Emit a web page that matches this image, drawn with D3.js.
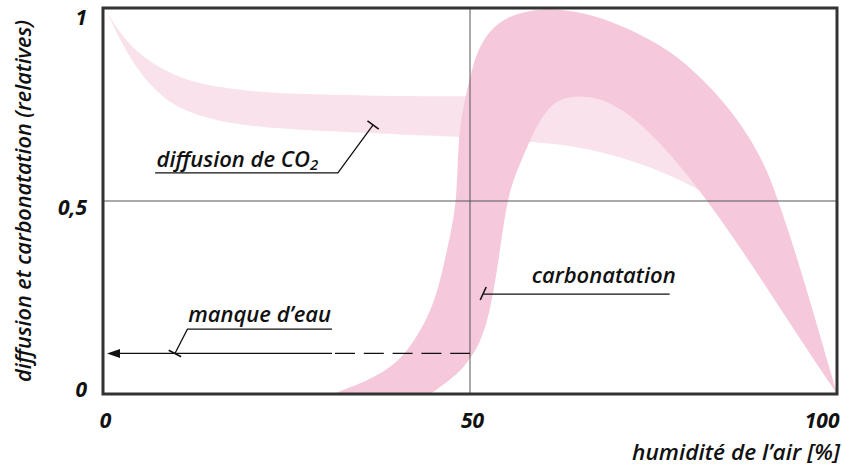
<!DOCTYPE html>
<html>
<head>
<meta charset="utf-8">
<script src="https://cdn.jsdelivr.net/npm/d3@7"></script>
<style>
	body { margin: 0; background: #fff; }
	text { font-family: 'Open Sans', sans-serif; font-style: italic; fill: #111; }
</style>
</head>
<body>
<svg id="chart" width="842" height="468"></svg>
<script>
// ticks
const xTicks = [0, 50, 100];
const yTicks = [0, 0.5, 1];
const yTickLabels = ['0', '0,5', '1'];

// band edges, [humidity %, relative value]
const carbonatationOuter = [
	[31.3, 0], [36.4, 0.036], [40.1, 0.08], [42.2, 0.132], [44.1, 0.192],
	[45.5, 0.26], [46.5, 0.34], [47.4, 0.42], [48.2, 0.5], [48.4, 0.658],
	[49.0, 0.736], [50.0, 0.821], [51.0, 0.891], [52.7, 0.943], [55.0, 0.977],
	[58.2, 0.995], [62, 0.998], [66, 0.985], [70, 0.96], [75, 0.915],
	[79, 0.865], [84.5, 0.762], [88.1, 0.666], [90.5, 0.58], [92, 0.5],
	[95, 0.33], [100, 0]
];
const carbonatationInner = [
	[100, 0], [94, 0.17], [88.6, 0.33], [82.3, 0.503], [77.7, 0.614],
	[73.2, 0.702], [70.4, 0.74], [67.7, 0.767], [65.0, 0.771], [63.2, 0.769],
	[61.3, 0.754], [59.5, 0.71], [58.2, 0.658], [56.4, 0.58], [55.0, 0.503],
	[53.8, 0.33], [52.6, 0.2], [51.2, 0.125], [50.0, 0.093], [48.6, 0.054],
	[44.6, 0]
];
const diffusionUpper = [
	[0.5, 0.99], [3, 0.915], [6.4, 0.858], [11, 0.812], [17, 0.79],
	[25, 0.776], [48.6, 0.769], [63, 0.775], [72, 0.765], [80, 0.69],
	[86, 0.55], [89, 0.42]
];
const diffusionLower = [
	[0.5, 0.99], [4.1, 0.847], [8.7, 0.754], [13.2, 0.718], [20, 0.69],
	[36, 0.676], [48.6, 0.666], [57, 0.657], [66, 0.64], [75, 0.588],
	[82.3, 0.521], [87, 0.45], [89, 0.42]
];

// "manque d'eau" arrow: level, end of solid part, end of dashed part
const waterLevel = 0.105;
const waterSolidEnd = 31.2;
const waterDashEnd = 50;

const margin = { top: 8, right: 5, bottom: 74, left: 103 };
const W = 842;
const H = 468;
const width = W - margin.left - margin.right;
const height = H - margin.top - margin.bottom;

const COLOR_CARB = '#f5c8dc';
const COLOR_DIFF = '#f9e2ec';
const INK = '#111';
const FS = 22;

const $svg = d3.select('#chart');
const $g = $svg.append('g').attr('transform', `translate(${margin.left},${margin.top})`);

const x = d3.scaleLinear().domain([0, 100]).range([0, width]);
const y = d3.scaleLinear().domain([0, 1]).range([height, 0]);

const edge = d3.line()
	.x(d => x(d[0]))
	.y(d => y(d[1]))
	.curve(d3.curveBasis);

function bandPath(a, b) {
	return edge(a) + edge(b).replace(/^M/, 'L') + 'Z';
}

$svg.append('defs').append('clipPath').attr('id', 'plot-clip')
	.append('rect').attr('width', width).attr('height', height);

const $bands = $g.append('g').attr('clip-path', 'url(#plot-clip)');

$bands.append('path')
	.attr('d', bandPath(diffusionUpper, diffusionLower.slice().reverse()))
	.attr('fill', COLOR_DIFF);

$bands.append('path')
	.attr('d', bandPath(carbonatationOuter, carbonatationInner))
	.attr('fill', COLOR_CARB);

// grid lines at 50 % and 0,5
$g.append('line')
	.attr('x1', x(50)).attr('x2', x(50))
	.attr('y1', 0).attr('y2', height)
	.attr('stroke', '#555').attr('stroke-width', 1);
$g.append('line')
	.attr('x1', 0).attr('x2', width)
	.attr('y1', y(0.5)).attr('y2', y(0.5))
	.attr('stroke', '#555').attr('stroke-width', 1);

// frame
$g.append('rect')
	.attr('width', width).attr('height', height)
	.attr('fill', 'none')
	.attr('stroke', '#333')
	.attr('stroke-width', 3);

// axes
const xAxis = d3.axisBottom(x).tickValues(xTicks).tickSize(0).tickPadding(19);
const $xAxis = $g.append('g').attr('transform', `translate(0,${height})`).call(xAxis);
$xAxis.select('.domain').remove();
$xAxis.selectAll('text')
	.attr('font-size', 21)
	.attr('font-weight', 700)
	.attr('font-family', "'Open Sans', sans-serif")
	.attr('fill', INK)
	.attr('x', 2)
	.attr('text-anchor', d => (d === 100 ? 'end' : 'middle'));

const yAxis = d3.axisLeft(y)
	.tickValues(yTicks)
	.tickFormat((d, i) => yTickLabels[i])
	.tickSize(0)
	.tickPadding(16);
const $yAxis = $g.append('g').call(yAxis);
$yAxis.select('.domain').remove();
$yAxis.selectAll('text')
	.attr('font-size', 21)
	.attr('font-weight', 700)
	.attr('font-family', "'Open Sans', sans-serif")
	.attr('fill', INK)
	.attr('y', d => (d === 1 ? 10 : d === 0 ? -4 : 7));

// axis titles
$svg.append('text')
	.attr('transform', `translate(31,${margin.top + height / 2}) rotate(-90)`)
	.attr('text-anchor', 'middle')
	.attr('font-size', FS)
	.attr('font-weight', 600)
	.attr('textLength', 362)
	.attr('lengthAdjust', 'spacingAndGlyphs')
	.text('diffusion et carbonatation (relatives)');

$svg.append('text')
	.attr('x', 840).attr('y', 460)
	.attr('text-anchor', 'end')
	.attr('font-size', FS)
	.attr('font-weight', 600)
	.attr('textLength', 208)
	.attr('lengthAdjust', 'spacingAndGlyphs')
	.text('humidité de l’air [%]');

// leader helpers
const $notes = $g.append('g');

function leader(pts) {
	$notes.append('path')
		.attr('d', d3.line()(pts))
		.attr('fill', 'none')
		.attr('stroke', INK)
		.attr('stroke-width', 1.3);
}

function endBar(p0, p1, len) {
	const dx = p1[0] - p0[0];
	const dy = p1[1] - p0[1];
	const l = Math.hypot(dx, dy);
	const nx = -dy / l * len / 2;
	const ny = dx / l * len / 2;
	$notes.append('line')
		.attr('x1', p1[0] - nx).attr('y1', p1[1] - ny)
		.attr('x2', p1[0] + nx).attr('y2', p1[1] + ny)
		.attr('stroke', INK)
		.attr('stroke-width', 1.6);
}

// diffusion de CO2
const diffPts = [[x(7.1), y(0.573)], [x(32), y(0.573)], [x(36.8), y(0.697)]];
leader(diffPts);
endBar(diffPts[1], diffPts[2], 14);
const $diffText = $notes.append('text')
	.attr('x', x(7.3)).attr('y', y(0.588))
	.attr('font-size', FS)
	.attr('font-weight', 600);
$diffText.append('tspan').text('diffusion de CO');
$diffText.append('tspan').attr('font-size', 15).attr('dy', 3).text('2');

// manque d'eau
const waterPts = [[x(waterSolidEnd), y(0.168)], [x(11.5), y(0.168)], [x(9.8), y(waterLevel)]];
leader(waterPts);
endBar(waterPts[1], waterPts[2], 14);
$notes.append('text')
	.attr('x', x(11.6)).attr('y', y(0.1865))
	.attr('font-size', FS)
	.attr('font-weight', 600)
	.text('manque d’eau');

// arrow
$notes.append('line')
	.attr('x1', x(0) + 14).attr('x2', x(waterSolidEnd))
	.attr('y1', y(waterLevel)).attr('y2', y(waterLevel))
	.attr('stroke', INK).attr('stroke-width', 1.3);
$notes.append('line')
	.attr('x1', x(waterSolidEnd) + 3).attr('x2', x(waterDashEnd))
	.attr('y1', y(waterLevel)).attr('y2', y(waterLevel))
	.attr('stroke', INK).attr('stroke-width', 1.3)
	.attr('stroke-dasharray', '20,8.8');
$notes.append('path')
	.attr('d', `M${x(0) + 4},${y(waterLevel)} l13,-4.5 l0,9 Z`)
	.attr('fill', INK);

// carbonatation
const carbPts = [[x(77.2), y(0.259)], [x(51.8), y(0.259)]];
leader(carbPts);
$notes.append('line')
	.attr('x1', x(51.8) - 3).attr('y1', y(0.259) + 6)
	.attr('x2', x(51.8) + 3).attr('y2', y(0.259) - 7)
	.attr('stroke', INK).attr('stroke-width', 1.6);
$notes.append('text')
	.attr('x', x(58.4)).attr('y', y(0.2876))
	.attr('font-size', FS)
	.attr('font-weight', 600)
	.text('carbonatation');
</script>
</body>
</html>
